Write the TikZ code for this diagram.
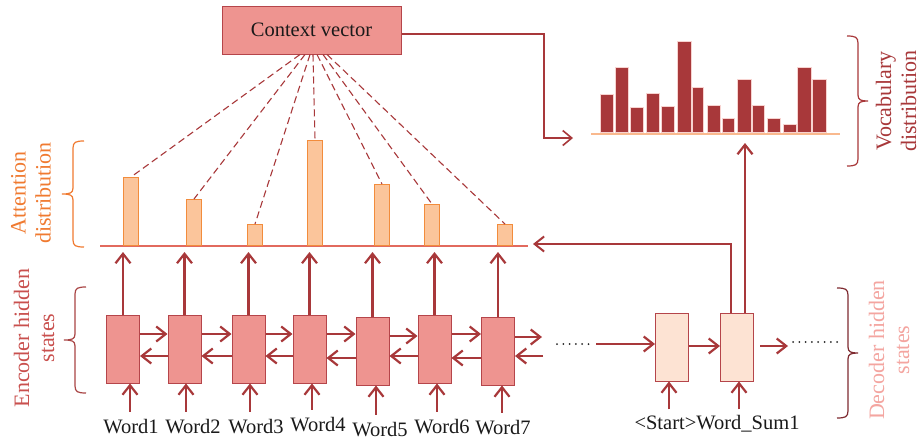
\documentclass[tikz,border=0pt]{standalone}
\usepackage{fontspec}
\setmainfont{Liberation Serif}
\usetikzlibrary{arrows.meta,calc}

\definecolor{arrowred}{HTML}{A8383A}
\definecolor{encfill}{HTML}{EE9490}
\definecolor{encedge}{HTML}{B5454A}
\definecolor{decfill}{HTML}{FDE3D3}
\definecolor{attfill}{HTML}{FBC59B}
\definecolor{attedge}{HTML}{F28C3C}
\definecolor{attline}{HTML}{E26A5E}
\definecolor{vocline}{HTML}{F9B98E}
\definecolor{vocedge}{HTML}{F7D3D0}
\definecolor{attlabel}{HTML}{F07A30}
\definecolor{enclabel}{HTML}{C9504E}
\definecolor{encbrace}{HTML}{A94545}
\definecolor{declabel}{HTML}{F4A5A0}
\definecolor{decbrace}{HTML}{7E2A30}
\definecolor{textgray}{HTML}{1A1A1A}

% curly brace with its tip to the west: ends at x=#2, from y=#3 to y=#4, tip at y=#5
\newcommand{\westcurly}[5][]{%
  \draw[#1] (#2,#3) .. controls (#2-8,#3) and (#2-11,#3+1) .. (#2-11,#3+7)
     -- (#2-11,#5-6) .. controls (#2-11,#5-1) and (#2-14,#5) .. (#2-22,#5)
     .. controls (#2-14,#5) and (#2-11,#5+1) .. (#2-11,#5+6)
     -- (#2-11,#4-7) .. controls (#2-11,#4-1) and (#2-8,#4) .. (#2,#4);}
% curly brace with its tip to the east
\newcommand{\eastcurly}[5][]{%
  \draw[#1] (#2,#3) .. controls (#2+8,#3) and (#2+11,#3+1) .. (#2+11,#3+7)
     -- (#2+11,#5-6) .. controls (#2+11,#5-1) and (#2+14,#5) .. (#2+21,#5)
     .. controls (#2+14,#5) and (#2+11,#5+1) .. (#2+11,#5+6)
     -- (#2+11,#4-7) .. controls (#2+11,#4-1) and (#2+8,#4) .. (#2,#4);}

\begin{document}
\begin{tikzpicture}[x=1pt,y=-1pt,
  arr/.style={draw=arrowred, line width=2.2pt, -{Straight Barb[length=9.5pt,width=15pt]}},
  thinarr/.style={draw=arrowred, line width=1.6pt, -{Straight Barb[length=9pt,width=15pt]}},
  encbox/.style={draw=encedge, fill=encfill, line width=1pt, minimum width=33pt, minimum height=68pt, inner sep=0pt},
  decbox/.style={draw=encedge, fill=decfill, line width=1pt, minimum width=33pt, minimum height=68pt, inner sep=0pt},
  attbar/.style={draw=attedge, fill=attfill, line width=1pt, minimum width=15pt, inner sep=0pt, anchor=south west},
  vocbar/.style={draw=vocedge, fill=arrowred, line width=1.2pt, inner sep=0pt, anchor=south west},
  word/.style={font=\fontsize{20.5}{24}\selectfont, text=textgray, inner sep=1pt},
  curly/.style={line width=1.2pt},
  sidelabel/.style={rotate=90, align=center, font=\fontsize{22}{25}\selectfont},
  attn/.style={draw=arrowred, dash pattern=on 7pt off 4pt, line width=1.1pt},
  dots/.style={draw=black!85, line width=2pt, line cap=round, dash pattern=on 0pt off 6.3pt}]

\useasboundingbox (0,0) rectangle (919,440);
\fill[white] (0,0) rectangle (919,440);

% ---------- context vector ----------
\node[draw=encedge, fill=encfill, line width=1pt, minimum width=179pt, minimum height=48pt,
      font=\fontsize{20.5}{24}\selectfont, text=textgray] (ctx) at (311.5,30) {Context vector};

% ---------- attention distribution ----------
\coordinate (ab1) at (100,246);
\coordinate (ab2) at (528,246);
\draw[attline, line width=1.2pt] (ab1) -- (ab2);
\foreach \x/\h [count=\i] in {123/68, 186/46, 247/21, 307/105, 374/61, 424/41, 497/21}
  \node[attbar, minimum height=\h pt] (a\i) at (\x,246) {};

% dashed attention links
\foreach \dx [count=\i] in {-11.5,-6.5,-1.5,1.5,5.5,11.5,15.5}
  \draw[attn] ([xshift=\dx pt]ctx.south) -- (a\i.north);

% ---------- vocabulary distribution ----------
\coordinate (vb1) at (591,134);
\coordinate (vb2) at (840,134);
\draw[vocline, line width=1.5pt] (vb1) -- (vb2);
\foreach \l/\r/\t [count=\i] in {600/613/95, 615/628/68, 630/643/108, 646/659/94, 661/674/107,
    677/691/42, 692/703/88, 707/720/106, 722/734/119, 737/751/80, 752/764/106,
    767/780/119, 783/796/125, 797/811/68, 812/826/80}
  \node[vocbar, minimum width={\r-\l}, minimum height={133-\t}] (v\i) at (\l,133) {};

% context vector feeds the vocabulary distribution
\coordinate (vbend) at (544,138);
\coordinate (vin) at (573,138);
\draw[thinarr] ([yshift=-4pt]ctx.east) -| (vbend) -- (vin);

% ---------- encoder ----------
\foreach \x/\y [count=\i] in {123/349, 184.5/349, 248.5/349, 309.5/349, 372.5/351, 434.5/349, 498/351}
  \node[encbox] (e\i) at (\x,\y) {};

\foreach \i [evaluate=\i as \j using int(\i+1)] in {1,...,6} {
  \draw[arr] ([yshift=15pt]e\i.east) -- ([yshift=15pt]e\i.east -| e\j.west);
  \draw[arr] ([yshift=-7pt]e\j.west) -- ([yshift=-7pt]e\j.west -| e\i.east);
}
\coordinate (e7f) at (542,337);
\coordinate (e7b) at (543,356);
\draw[arr] (e7.east |- e7f) -- (e7f);
\draw[arr] (e7b) -- (e7b -| e7.east);

% encoder states up to the attention distribution
\coordinate (atttip) at (0,252);
\foreach \i in {1,...,7}
  \draw[arr] (e\i.north) -- (e\i.north |- atttip);

% input words
\foreach \x/\y [count=\i] in {131/427, 193/427, 256/427, 318/425, 380/430, 442/427, 503/428}
  \node[word] (w\i) at (\x,\y) {Word\i};
\foreach \o [count=\i] in {7,1.5,1.5,2.5,3.5,2.5,4}
  \draw[arr] ([xshift=\o pt, yshift=7pt]w\i.north -| e\i.south) -- ([xshift=\o pt]e\i.south);

% ---------- decoder ----------
\node[decbox] (d1) at (672,347) {};
\node[decbox] (d2) at (737,347) {};

\coordinate (dotsA1) at (557,344);
\coordinate (dotsA2) at (590,344);
\draw[dots] (dotsA1) -- (dotsA2);
\coordinate (dA) at (596,344);
\draw[arr] (dA) -- (dA -| d1.west);
\draw[arr] ([yshift=1pt]d1.east) -- ([yshift=1pt]d2.west);
\coordinate (dout) at (788,346);
\draw[arr] ([xshift=6pt]d2.east |- dout) -- (dout);
\coordinate (dotsB1) at (793,342);
\coordinate (dotsB2) at (840,342);
\draw[dots] (dotsB1) -- (dotsB2);

\node[word] (dl) at (717,424) {<Start>Word\_Sum1};
\draw[arr] ([xshift=-3pt, yshift=5pt]dl.north -| d1.south) -- ([xshift=-3pt]d1.south);
\draw[arr] ([xshift=2pt, yshift=5pt]dl.north -| d2.south) -- ([xshift=2pt]d2.south);

% decoder state back to attention and up to the vocabulary
\coordinate (fb) at (533,244);
\draw[arr, line width=2pt] ([xshift=-6pt]d2.north) |- (fb);
\coordinate (vtip) at (745,143);
\draw[arr] ([xshift=8pt]d2.north) -- (vtip);

% ---------- braces and side labels ----------
\westcurly[curly, attlabel]{84}{141}{247}{194}
\westcurly[curly, encbrace]{86}{287}{393}{340}
\eastcurly[curly, decbrace]{837}{288}{418}{353}
\eastcurly[curly, arrowred]{847}{36}{166}{101}

\node[sidelabel, text=attlabel] (attlab) at (31,193) {Attention\\distribution};
\node[sidelabel, text=enclabel] (enclab) at (34,338) {Encoder hidden\\states};
\node[sidelabel, text=declabel] (declab) at (889,350) {Decoder hidden\\states};
\node[sidelabel, text=arrowred] (voclab) at (896,101) {Vocabulary\\distribution};

\end{tikzpicture}
\end{document}
